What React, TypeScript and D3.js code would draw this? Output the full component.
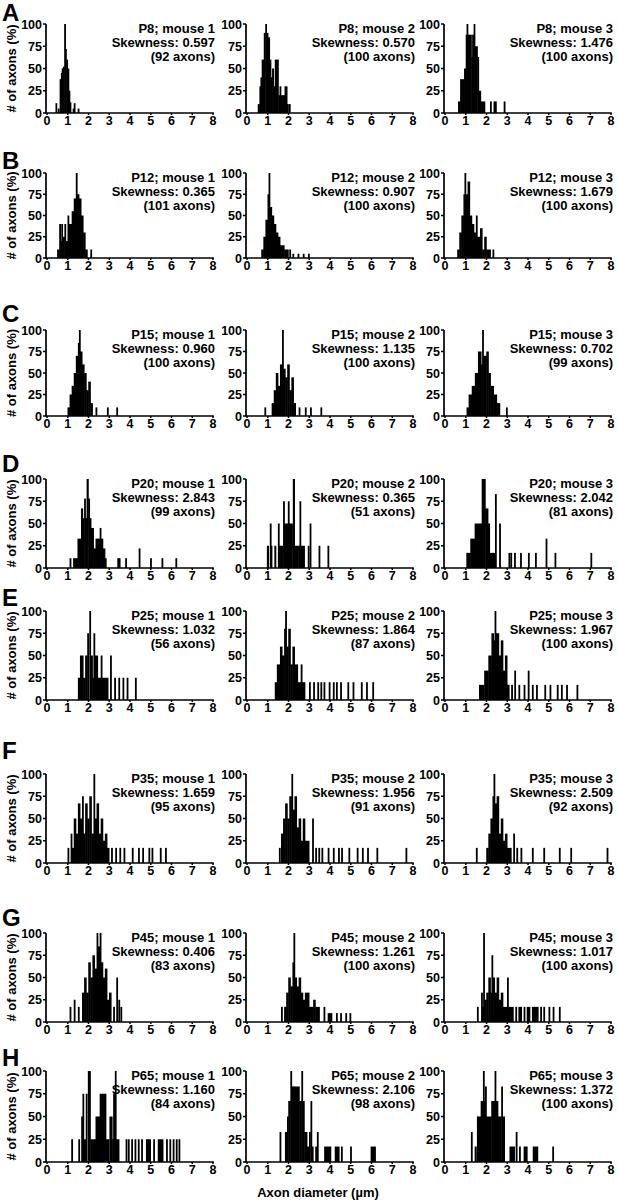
import React, { useEffect } from "react";
import * as d3 from "d3";

// ---------- labels ----------
const rowLetters = ["A", "B", "C", "D", "E", "F", "G", "H"];
const ages = ["P8", "P12", "P15", "P20", "P25", "P35", "P45", "P65"];
const skewness = [
  ["0.597", "0.570", "1.476"],
  ["0.365", "0.907", "1.679"],
  ["0.960", "1.135", "0.702"],
  ["2.843", "0.365", "2.042"],
  ["1.032", "1.864", "1.967"],
  ["1.659", "1.956", "2.509"],
  ["0.406", "1.261", "1.017"],
  ["1.160", "2.106", "1.372"],
];
const axonCounts = [
  [92, 100, 100],
  [101, 100, 100],
  [100, 100, 99],
  [99, 51, 81],
  [56, 87, 100],
  [95, 91, 92],
  [83, 100, 100],
  [84, 98, 100],
];
const xTicks = [0, 1, 2, 3, 4, 5, 6, 7, 8];
const yTicks = [0, 25, 50, 75, 100];

// ---------- histogram bars: [from µm, to µm, % of max] ----------
const A1 = [[0.42,0.47,11],[0.53,0.57,5],[0.62,0.68,38],[0.68,0.72,45],[0.72,0.78,50],[0.78,0.84,52],[0.84,0.88,100],[0.88,0.94,72],[0.94,1.0,60],[1.0,1.05,50],[1.05,1.1,25],[1.1,1.15,12],[1.25,1.29,5],[1.3,1.34,11],[1.49,1.53,5]];
const A2 = [[0.53,0.61,10],[0.61,0.66,30],[0.66,0.72,40],[0.72,0.82,60],[0.82,0.89,90],[0.89,0.95,100],[0.95,1.02,90],[1.02,1.1,85],[1.1,1.16,60],[1.16,1.22,40],[1.22,1.29,50],[1.29,1.35,30],[1.35,1.52,60],[1.52,1.58,20],[1.58,1.64,30],[1.64,1.82,20],[1.82,1.94,30],[1.94,1.98,10],[2.03,2.07,10]];
const A3 = [[0.64,0.74,13],[0.74,0.93,38],[0.93,1.01,50],[1.01,1.05,88],[1.05,1.08,100],[1.08,1.28,88],[1.28,1.32,63],[1.32,1.39,88],[1.39,1.43,100],[1.43,1.57,75],[1.57,1.63,63],[1.63,1.73,25],[1.73,1.93,13],[2.18,2.22,13],[2.35,2.39,13],[2.42,2.46,13],[2.84,2.88,13]];

const B1 = [[0.5,0.6,10],[0.6,0.65,40],[0.65,0.7,20],[0.7,0.75,40],[0.75,0.85,25],[0.85,0.9,40],[0.9,1.0,20],[1.0,1.05,50],[1.05,1.2,40],[1.2,1.3,55],[1.3,1.4,70],[1.4,1.45,100],[1.45,1.55,75],[1.55,1.65,70],[1.65,1.75,50],[1.75,1.85,30],[1.85,1.95,10],[2.1,2.15,10]];
const B2 = [[0.7,0.8,10],[0.8,0.9,25],[0.9,1.0,45],[1.0,1.05,75],[1.05,1.1,100],[1.1,1.2,60],[1.2,1.3,50],[1.3,1.4,40],[1.4,1.5,30],[1.5,1.6,25],[1.6,1.8,15],[1.8,2.0,10],[2.05,2.1,10],[2.2,2.25,5],[2.45,2.5,5],[2.7,2.75,5],[2.95,3.0,5]];
const B3 = [[0.6,0.7,10],[0.7,0.8,30],[0.8,0.9,50],[0.9,0.95,75],[0.95,1.0,100],[1.0,1.1,75],[1.1,1.2,90],[1.2,1.3,50],[1.3,1.4,40],[1.4,1.5,30],[1.5,1.55,50],[1.55,1.7,25],[1.7,1.8,35],[1.8,1.9,10],[1.9,2.0,25],[2.0,2.2,10],[2.3,2.35,10]];

const C1 = [[1.0,1.1,10],[1.1,1.2,25],[1.2,1.3,35],[1.3,1.4,50],[1.4,1.5,70],[1.5,1.55,85],[1.55,1.6,100],[1.6,1.7,75],[1.7,1.8,60],[1.8,1.9,50],[1.9,2.0,30],[2.0,2.1,40],[2.1,2.2,15],[2.35,2.4,10],[2.9,2.95,10],[3.35,3.4,10]];
const C2 = [[0.85,0.9,10],[1.2,1.3,15],[1.3,1.4,30],[1.4,1.5,50],[1.5,1.6,35],[1.6,1.7,60],[1.7,1.75,100],[1.75,1.85,55],[1.85,1.95,45],[1.95,2.05,60],[2.05,2.15,30],[2.15,2.25,45],[2.25,2.35,15],[2.5,2.55,10],[2.8,2.85,10],[3.05,3.1,10],[3.55,3.6,10]];
const C3 = [[1.05,1.15,10],[1.15,1.3,25],[1.3,1.45,35],[1.45,1.6,50],[1.6,1.75,75],[1.75,1.8,60],[1.8,1.85,100],[1.85,2.0,70],[2.0,2.1,75],[2.1,2.2,50],[2.2,2.35,35],[2.35,2.5,25],[2.5,2.65,15],[2.95,3.0,10]];

const D1 = [[1.1,1.15,11],[1.27,1.48,11],[1.48,1.65,33],[1.65,1.73,67],[1.73,1.8,56],[1.8,1.85,78],[1.85,1.92,56],[1.92,2.0,100],[2.0,2.05,78],[2.05,2.13,56],[2.13,2.25,45],[2.25,2.35,22],[2.35,2.55,33],[2.55,2.6,45],[2.6,2.7,33],[2.7,2.8,22],[2.8,2.85,11],[3.4,3.45,11],[3.47,3.52,11],[3.78,3.82,11],[4.43,4.47,22],[4.98,5.02,11],[5.53,5.57,11],[6.2,6.24,11]];
const D2 = [[0.97,1.05,25],[1.11,1.15,50],[1.15,1.2,25],[1.33,1.4,25],[1.5,1.54,50],[1.54,1.73,25],[1.75,1.79,75],[1.79,1.98,50],[1.98,2.02,75],[2.02,2.2,50],[2.22,2.3,100],[2.3,2.48,25],[2.54,2.58,75],[2.48,2.78,25],[2.94,2.98,25],[3.03,3.07,50],[3.46,3.5,25],[3.89,3.93,25]];
const D3 = [[1.04,1.23,17],[1.23,1.44,33],[1.44,1.78,50],[1.78,1.95,100],[1.95,2.08,67],[2.08,2.16,50],[2.16,2.4,17],[2.42,2.46,83],[2.62,2.66,50],[3.07,3.11,17],[3.16,3.22,17],[3.34,3.38,17],[3.63,3.67,17],[4.01,4.05,17],[4.35,4.39,17],[4.86,4.9,33],[5.29,5.33,17],[7.02,7.06,17]];

const E1 = [[1.5,1.6,25],[1.6,1.75,50],[1.75,1.85,25],[1.85,1.95,50],[1.95,2.0,75],[2.05,2.1,100],[2.1,2.2,50],[2.2,2.25,25],[2.25,2.3,75],[2.3,2.45,50],[2.45,2.6,25],[2.6,2.65,50],[2.65,2.95,25],[3.05,3.1,50],[3.25,3.3,25],[3.45,3.5,25],[3.65,3.7,25],[3.85,3.9,25],[4.25,4.3,25]];
const E2 = [[1.35,1.45,20],[1.45,1.6,40],[1.6,1.7,60],[1.7,1.8,50],[1.8,1.85,80],[1.85,1.9,100],[1.9,2.0,60],[2.0,2.1,80],[2.1,2.2,40],[2.2,2.3,60],[2.3,2.45,40],[2.45,2.6,20],[2.6,2.65,40],[2.65,2.8,20],[3.0,3.05,20],[3.2,3.25,20],[3.4,3.45,20],[3.55,3.6,20],[3.7,3.75,20],[3.95,4.0,20],[4.15,4.2,20],[4.3,4.35,20],[4.5,4.55,20],[4.85,4.9,20],[5.1,5.15,20],[5.5,5.55,20],[5.75,5.8,20],[6.05,6.1,20]];
const E3 = [[1.65,1.9,17],[1.9,2.1,33],[2.1,2.25,50],[2.25,2.35,75],[2.35,2.4,67],[2.4,2.45,100],[2.45,2.6,75],[2.6,2.7,50],[2.7,2.8,67],[2.8,2.9,33],[2.9,3.0,50],[3.0,3.1,17],[3.2,3.25,17],[3.35,3.4,33],[3.55,3.6,17],[3.8,3.85,17],[4.0,4.05,33],[4.2,4.25,17],[4.4,4.45,17],[4.8,4.85,17],[5.05,5.1,17],[5.4,5.45,17],[5.6,5.65,17],[5.85,5.9,17],[6.35,6.4,17]];

const F1 = [[1.0,1.05,17],[1.15,1.2,33],[1.2,1.3,17],[1.3,1.4,50],[1.4,1.5,33],[1.5,1.6,67],[1.6,1.7,50],[1.7,1.75,75],[1.75,1.85,33],[1.85,1.95,67],[1.95,2.05,50],[2.05,2.15,75],[2.15,2.25,33],[2.25,2.3,100],[2.3,2.4,50],[2.4,2.5,67],[2.5,2.6,33],[2.6,2.7,50],[2.7,2.8,25],[2.8,2.9,33],[2.9,3.0,17],[3.1,3.15,17],[3.3,3.35,17],[3.5,3.55,17],[3.7,3.75,17],[4.1,4.15,17],[4.4,4.45,17],[4.6,4.65,17],[4.9,4.95,17],[5.05,5.1,17],[5.45,5.5,17],[5.7,5.75,17]];
const F2 = [[1.55,1.6,17],[1.65,1.75,33],[1.75,1.85,50],[1.85,1.95,67],[1.95,2.05,50],[2.05,2.15,75],[2.15,2.2,100],[2.2,2.3,60],[2.3,2.4,75],[2.4,2.5,40],[2.5,2.6,50],[2.6,2.7,25],[2.7,2.8,50],[2.8,3.0,25],[3.15,3.2,50],[3.3,3.35,17],[3.45,3.5,17],[3.6,3.65,17],[3.9,3.95,17],[4.15,4.2,17],[4.4,4.45,17],[4.55,4.6,17],[4.9,4.95,17],[5.3,5.35,17],[5.55,5.6,17],[5.8,5.85,17],[6.25,6.3,17],[7.65,7.7,17]];
const F3 = [[1.5,1.55,17],[2.0,2.1,17],[2.1,2.2,33],[2.2,2.3,50],[2.3,2.35,75],[2.35,2.4,100],[2.4,2.5,67],[2.5,2.6,75],[2.6,2.7,33],[2.7,2.8,50],[2.8,2.9,25],[2.9,3.0,33],[3.0,3.2,17],[3.3,3.35,33],[3.45,3.5,17],[3.65,3.7,17],[4.2,4.25,17],[4.75,4.8,17],[5.5,5.55,17],[6.05,6.1,17],[7.8,7.85,17]];

const G1 = [[1.1,1.15,17],[1.3,1.35,25],[1.5,1.55,17],[1.7,1.8,33],[1.8,1.9,50],[1.9,2.0,33],[2.0,2.1,67],[2.1,2.2,50],[2.2,2.3,75],[2.3,2.4,60],[2.4,2.45,100],[2.45,2.55,85],[2.55,2.6,100],[2.6,2.7,67],[2.7,2.8,50],[2.8,2.9,60],[2.9,3.0,25],[3.0,3.1,33],[3.2,3.25,17],[3.35,3.4,50],[3.45,3.5,25],[3.55,3.6,17]];
const G2 = [[1.65,1.7,17],[1.8,1.9,17],[1.9,2.0,33],[2.0,2.1,50],[2.1,2.2,40],[2.2,2.25,67],[2.25,2.3,100],[2.3,2.4,50],[2.4,2.5,40],[2.5,2.6,50],[2.6,2.7,33],[2.7,2.8,25],[2.8,3.0,33],[3.0,3.2,17],[3.2,3.3,25],[3.3,3.5,17],[3.7,3.75,17],[3.9,4.1,10],[4.3,4.35,10],[4.5,4.55,10],[4.75,4.8,10],[4.95,5.0,10]];
const G3 = [[1.55,1.6,17],[1.75,1.8,33],[1.8,1.85,17],[1.85,1.9,100],[1.9,2.0,25],[2.0,2.1,33],[2.1,2.2,50],[2.2,2.25,33],[2.25,2.3,75],[2.3,2.4,50],[2.4,2.5,33],[2.5,2.6,50],[2.6,2.7,25],[2.7,2.8,33],[2.8,3.0,17],[3.0,3.05,50],[3.05,3.3,17],[3.4,3.45,17],[3.55,3.7,17],[3.8,3.85,17],[3.95,4.1,17],[4.2,4.5,17],[4.6,4.65,17],[4.75,4.8,17],[5.0,5.05,17],[5.2,5.25,17],[5.5,5.55,17]];

const H1 = [[1.18,1.22,25],[1.52,1.56,25],[1.66,1.7,50],[1.72,1.76,75],[1.7,1.88,25],[1.88,1.92,75],[1.98,2.1,100],[2.1,2.35,25],[2.35,2.55,50],[2.55,2.85,75],[2.85,3.0,25],[3.02,3.15,50],[3.15,3.2,25],[3.2,3.28,75],[3.28,3.32,100],[3.32,3.48,25],[3.8,3.84,25],[3.91,3.95,25],[4.07,4.11,25],[4.23,4.27,25],[4.39,4.43,25],[4.55,4.59,25],[4.78,5.0,25],[5.13,5.17,25],[5.35,5.6,25],[5.75,5.79,25],[5.91,5.95,25],[6.07,6.11,25],[6.22,6.26,25],[6.35,6.39,25]];
const H2 = [[1.58,1.62,33],[1.84,1.94,33],[1.94,2.0,50],[2.0,2.1,67],[2.1,2.16,100],[2.16,2.2,83],[2.2,2.53,83],[2.53,2.63,67],[2.63,2.68,100],[2.68,2.77,67],[2.77,2.9,33],[2.9,3.0,17],[3.0,3.05,33],[3.07,3.11,67],[3.11,3.2,17],[3.3,3.35,17],[3.38,3.42,33],[3.73,4.05,17],[4.24,4.45,17],[4.54,4.58,17],[4.98,5.02,17],[5.97,6.2,17]];
const H3 = [[1.26,1.3,33],[1.44,1.52,17],[1.55,1.59,50],[1.59,1.73,50],[1.73,1.84,67],[1.84,1.88,100],[1.88,1.94,67],[1.94,1.98,83],[1.98,2.24,50],[2.24,2.4,67],[2.4,2.44,100],[2.44,2.56,67],[2.56,2.72,50],[2.72,2.76,83],[2.76,2.88,50],[3.12,3.36,17],[3.42,3.46,33],[3.58,3.62,17],[3.8,3.97,17],[4.24,4.48,17],[5.18,5.22,17]];

const panelBars = [
  [A1, A2, A3],
  [B1, B2, B3],
  [C1, C2, C3],
  [D1, D2, D3],
  [E1, E2, E3],
  [F1, F2, F3],
  [G1, G2, G3],
  [H1, H2, H3],
];

// ---------- layout ----------
const W = 618;
const H = 1200;
const colX = [47, 247, 445];
const plotW = 166;
const rowTop = [24, 173, 330, 479, 611, 774, 933, 1071];
const rowBottom = [113, 258, 416, 568, 700, 863, 1022, 1162];
const letterY = [12, 160, 313, 463, 597, 750, 917, 1057];
const FONT = "'Liberation Sans', Arial, Helvetica, sans-serif";

function Panel({ r, c }: { r: number; c: number }) {
  const x = d3.scaleLinear().domain([0, 8]).range([colX[c], colX[c] + plotW]);
  const y = d3.scaleLinear().domain([0, 100]).range([rowBottom[r], rowTop[r]]);
  const bars = panelBars[r][c];
  const ax = x(0) - 1;
  const base = y(0);
  const right = x(8) + 2;
  return (
    <g>
      {bars.map((b, i) => {
        const x0 = x(b[0]);
        const w = Math.max(x(b[1]) - x0, 1.3) + 0.5;
        return (
          <rect key={i} x={x0 - 0.25} y={y(b[2])} width={w} height={base - y(b[2])} fill="#000" />
        );
      })}
      {/* y axis */}
      <line x1={ax} x2={ax} y1={y(100)} y2={base} stroke="#000" strokeWidth={1.7} />
      {yTicks.map((t) => (
        <g key={"y" + t}>
          <line x1={ax - 3} x2={ax} y1={y(t)} y2={y(t)} stroke="#000" strokeWidth={1.5} />
          <text x={ax - 4} y={y(t)} dy="0.36em" textAnchor="end" fontSize={12.5} fontWeight="bold" fontFamily={FONT}>
            {t}
          </text>
        </g>
      ))}
      {/* x axis */}
      <line x1={ax - 0.8} x2={x(8) + 0.8} y1={base} y2={base} stroke="#000" strokeWidth={1.7} />
      {xTicks.map((t) => (
        <g key={"x" + t}>
          <line x1={x(t)} x2={x(t)} y1={base} y2={base + 2} stroke="#000" strokeWidth={1.5} />
          <text x={x(t)} y={base + 11.5} textAnchor="middle" fontSize={12.5} fontWeight="bold" fontFamily={FONT}>
            {t}
          </text>
        </g>
      ))}
      {/* title */}
      <g fontSize={13} fontWeight="bold" fontFamily={FONT} textAnchor="end">
        <text x={right} y={y(100) + 9}>{`${ages[r]}; mouse ${c + 1}`}</text>
        <text x={right} y={y(100) + 23}>{`Skewness: ${skewness[r][c]}`}</text>
        <text x={right} y={y(100) + 37}>{`(${axonCounts[r][c]} axons)`}</text>
      </g>
    </g>
  );
}

export default function App() {
  useEffect(() => {
    document.body.style.margin = "0";
  }, []);
  return (
    <svg width={W} height={H} viewBox={`0 0 ${W} ${H}`} style={{ display: "block", position: "absolute", left: 0, top: 0, background: "#fff" }}>
      <rect x={0} y={0} width={W} height={H} fill="#fff" />
      {rowLetters.map((L, r) => (
        <g key={L}>
          <text x={2} y={letterY[r]} dy="0.36em" fontSize={24} fontWeight="bold" fontFamily={FONT}>
            {L}
          </text>
          <text
            transform={`translate(16, ${(rowTop[r] + rowBottom[r]) / 2}) rotate(-90)`}
            textAnchor="middle"
            fontSize={13}
            fontWeight="bold"
            fontFamily={FONT}
          >
            # of axons (%)
          </text>
          {[0, 1, 2].map((c) => (
            <Panel key={c} r={r} c={c} />
          ))}
        </g>
      ))}
      <text x={318} y={1197} textAnchor="middle" fontSize={13} fontWeight="bold" fontFamily={FONT}>
        Axon diameter (µm)
      </text>
    </svg>
  );
}
